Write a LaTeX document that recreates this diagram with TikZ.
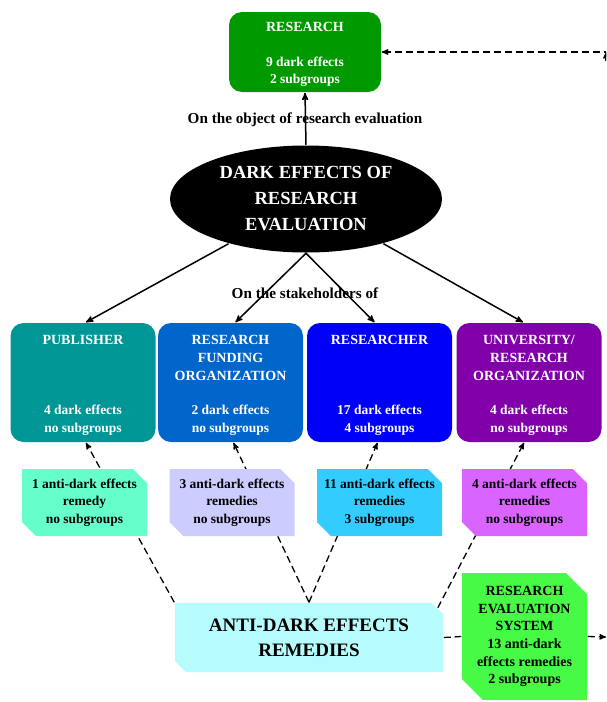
\documentclass[tikz,border=0pt]{standalone}
\usepackage{fontspec}
\setmainfont{Liberation Serif}
\usepackage{tikz}
\usetikzlibrary{arrows,shapes.geometric,shapes.misc}

\definecolor{resgreen}{RGB}{0,153,0}
\definecolor{pubteal}{RGB}{0,150,150}
\definecolor{fundblue}{RGB}{0,102,204}
\definecolor{rerblue}{RGB}{0,0,250}
\definecolor{unipurple}{RGB}{130,0,170}
\definecolor{notea}{RGB}{102,255,204}
\definecolor{noteb}{RGB}{204,204,255}
\definecolor{notec}{RGB}{51,204,255}
\definecolor{noted}{RGB}{218,100,255}
\definecolor{anticyan}{RGB}{182,252,252}
\definecolor{sysgreen}{RGB}{70,250,70}

\begin{document}
\begin{tikzpicture}[x=1pt,y=-1pt,>=stealth',line width=1.5pt,
    sbox/.style={rounded corners=13pt,minimum width=145pt,minimum height=119pt,inner sep=0pt},
    head/.style={anchor=base,align=center,text=white,font=\fontsize{14}{18}\selectfont\bfseries},
    cnt/.style={anchor=base,align=center,text=white,font=\fontsize{13.5}{18}\selectfont\bfseries},
    note/.style={chamfered rectangle,chamfered rectangle corners={north east,south west},
      chamfered rectangle sep=7pt,minimum width=125pt,minimum height=67pt,inner sep=0pt,
      align=center,font=\fontsize{13.5}{17.5}\selectfont\bfseries},
    lbl/.style={anchor=base,font=\fontsize{15.2}{18}\selectfont\bfseries},
    dsh/.style={dash pattern=on 7pt off 4pt,line width=1.3pt}]
    \useasboundingbox (0,0) rectangle (606,702);
    \clip (0,0) rectangle (606,702);

    % base of a node = baseline of its last line
    \node[sbox,fill=resgreen,minimum width=152pt,minimum height=80pt] (research) at (305,52) {};
    \node[head] (researcht) at (305,31) {RESEARCH};
    \node[cnt,font=\fontsize{13.5}{17}\selectfont\bfseries] (researchc) at (305,83) {9 dark effects\\2 subgroups};

    \node[ellipse,fill=black,minimum width=272pt,minimum height=107pt,inner sep=0pt,align=center,
      text=white,font=\fontsize{18.5}{26}\selectfont\bfseries] (dark) at (306,199) {DARK EFFECTS OF\\RESEARCH\\EVALUATION};

    % stakeholders
    \node[sbox,fill=pubteal] (pub) at (83,382.5) {};
    \node[head] (pubt) at (83,344) {PUBLISHER};
    \node[cnt] (pubc) at (83,432) {4 dark effects\\no subgroups};
    \node[sbox,fill=fundblue] (rfo) at (230.5,382.5) {};
    \node[head] (rfot) at (230.5,380) {RESEARCH\\FUNDING\\ORGANIZATION};
    \node[cnt] (rfoc) at (230.5,432) {2 dark effects\\no subgroups};
    \node[sbox,fill=rerblue] (rer) at (379.5,382.5) {};
    \node[head] (rert) at (379.5,344) {RESEARCHER};
    \node[cnt] (rerc) at (379.5,432) {17 dark effects\\4 subgroups};
    \node[sbox,fill=unipurple] (uni) at (529,382.5) {};
    \node[head] (unit) at (529,380) {UNIVERSITY/\\RESEARCH\\ORGANIZATION};
    \node[cnt] (unic) at (529,432) {4 dark effects\\no subgroups};

    \node[lbl] (objlbl) at (305,123) {On the object of research evaluation};
    \node[lbl] (stakelbl) at (305,298) {On the stakeholders of};

    \draw[->] (dark.north) -- (research.south);
    \draw[->] (dark.210) -- ([xshift=3pt]pub.north);
    \draw[->] (dark.south) -- ([xshift=5pt]rfo.north);
    \draw[->] (dark.south) -- ([xshift=-5pt]rer.north);
    \draw[->] (dark.330) -- ([xshift=-6pt]uni.north);

    % remedies
    \node[note,fill=anticyan,minimum width=268pt,minimum height=69pt,chamfered rectangle sep=5.5pt,
      font=\fontsize{19}{25}\selectfont\bfseries] (anti) at (309,637.5) {ANTI-DARK EFFECTS\\REMEDIES};
    \node[note,fill=sysgreen,minimum height=127pt,chamfered rectangle xsep=8pt,chamfered rectangle ysep=13pt,
      font=\fontsize{14}{17.7}\selectfont\bfseries] (sys) at (524.5,636.5)
      {RESEARCH\\EVALUATION\\SYSTEM\\13 anti-dark\\effects remedies\\2 subgroups};

    \coordinate (edgetop) at (606,52);
    \coordinate (edgelow) at (606,61);
    \coordinate (edgeright) at (606,637);
    \draw[dsh,<-] (research.east) -- (edgetop);
    \draw[->,line width=1.3pt] (edgelow) -- (edgetop);
    \draw[dsh] (anti.east) -- (sys.west);
    \draw[dsh,->] (sys.east) -- (edgeright);

    \draw[dsh,->] (anti.north west) -- ([xshift=3pt]pub.south);
    \draw[dsh,->] (anti.north) -- ([xshift=3pt]rfo.south);
    \draw[dsh,->] (anti.north) -- ([xshift=-2pt]rer.south);
    \draw[dsh,->] (anti.13) -- ([xshift=-5pt]uni.south);

    \node[note,fill=notea] (n1) at (84.5,502.5) {1 anti-dark effects\\remedy\\no subgroups};
    \node[note,fill=noteb] (n2) at (232,502.5) {3 anti-dark effects\\remedies\\no subgroups};
    \node[note,fill=notec] (n3) at (379.5,502.5) {11 anti-dark effects\\remedies\\3 subgroups};
    \node[note,fill=noted] (n4) at (524.5,502.5) {4 anti-dark effects\\remedies\\no subgroups};
\end{tikzpicture}
\end{document}
